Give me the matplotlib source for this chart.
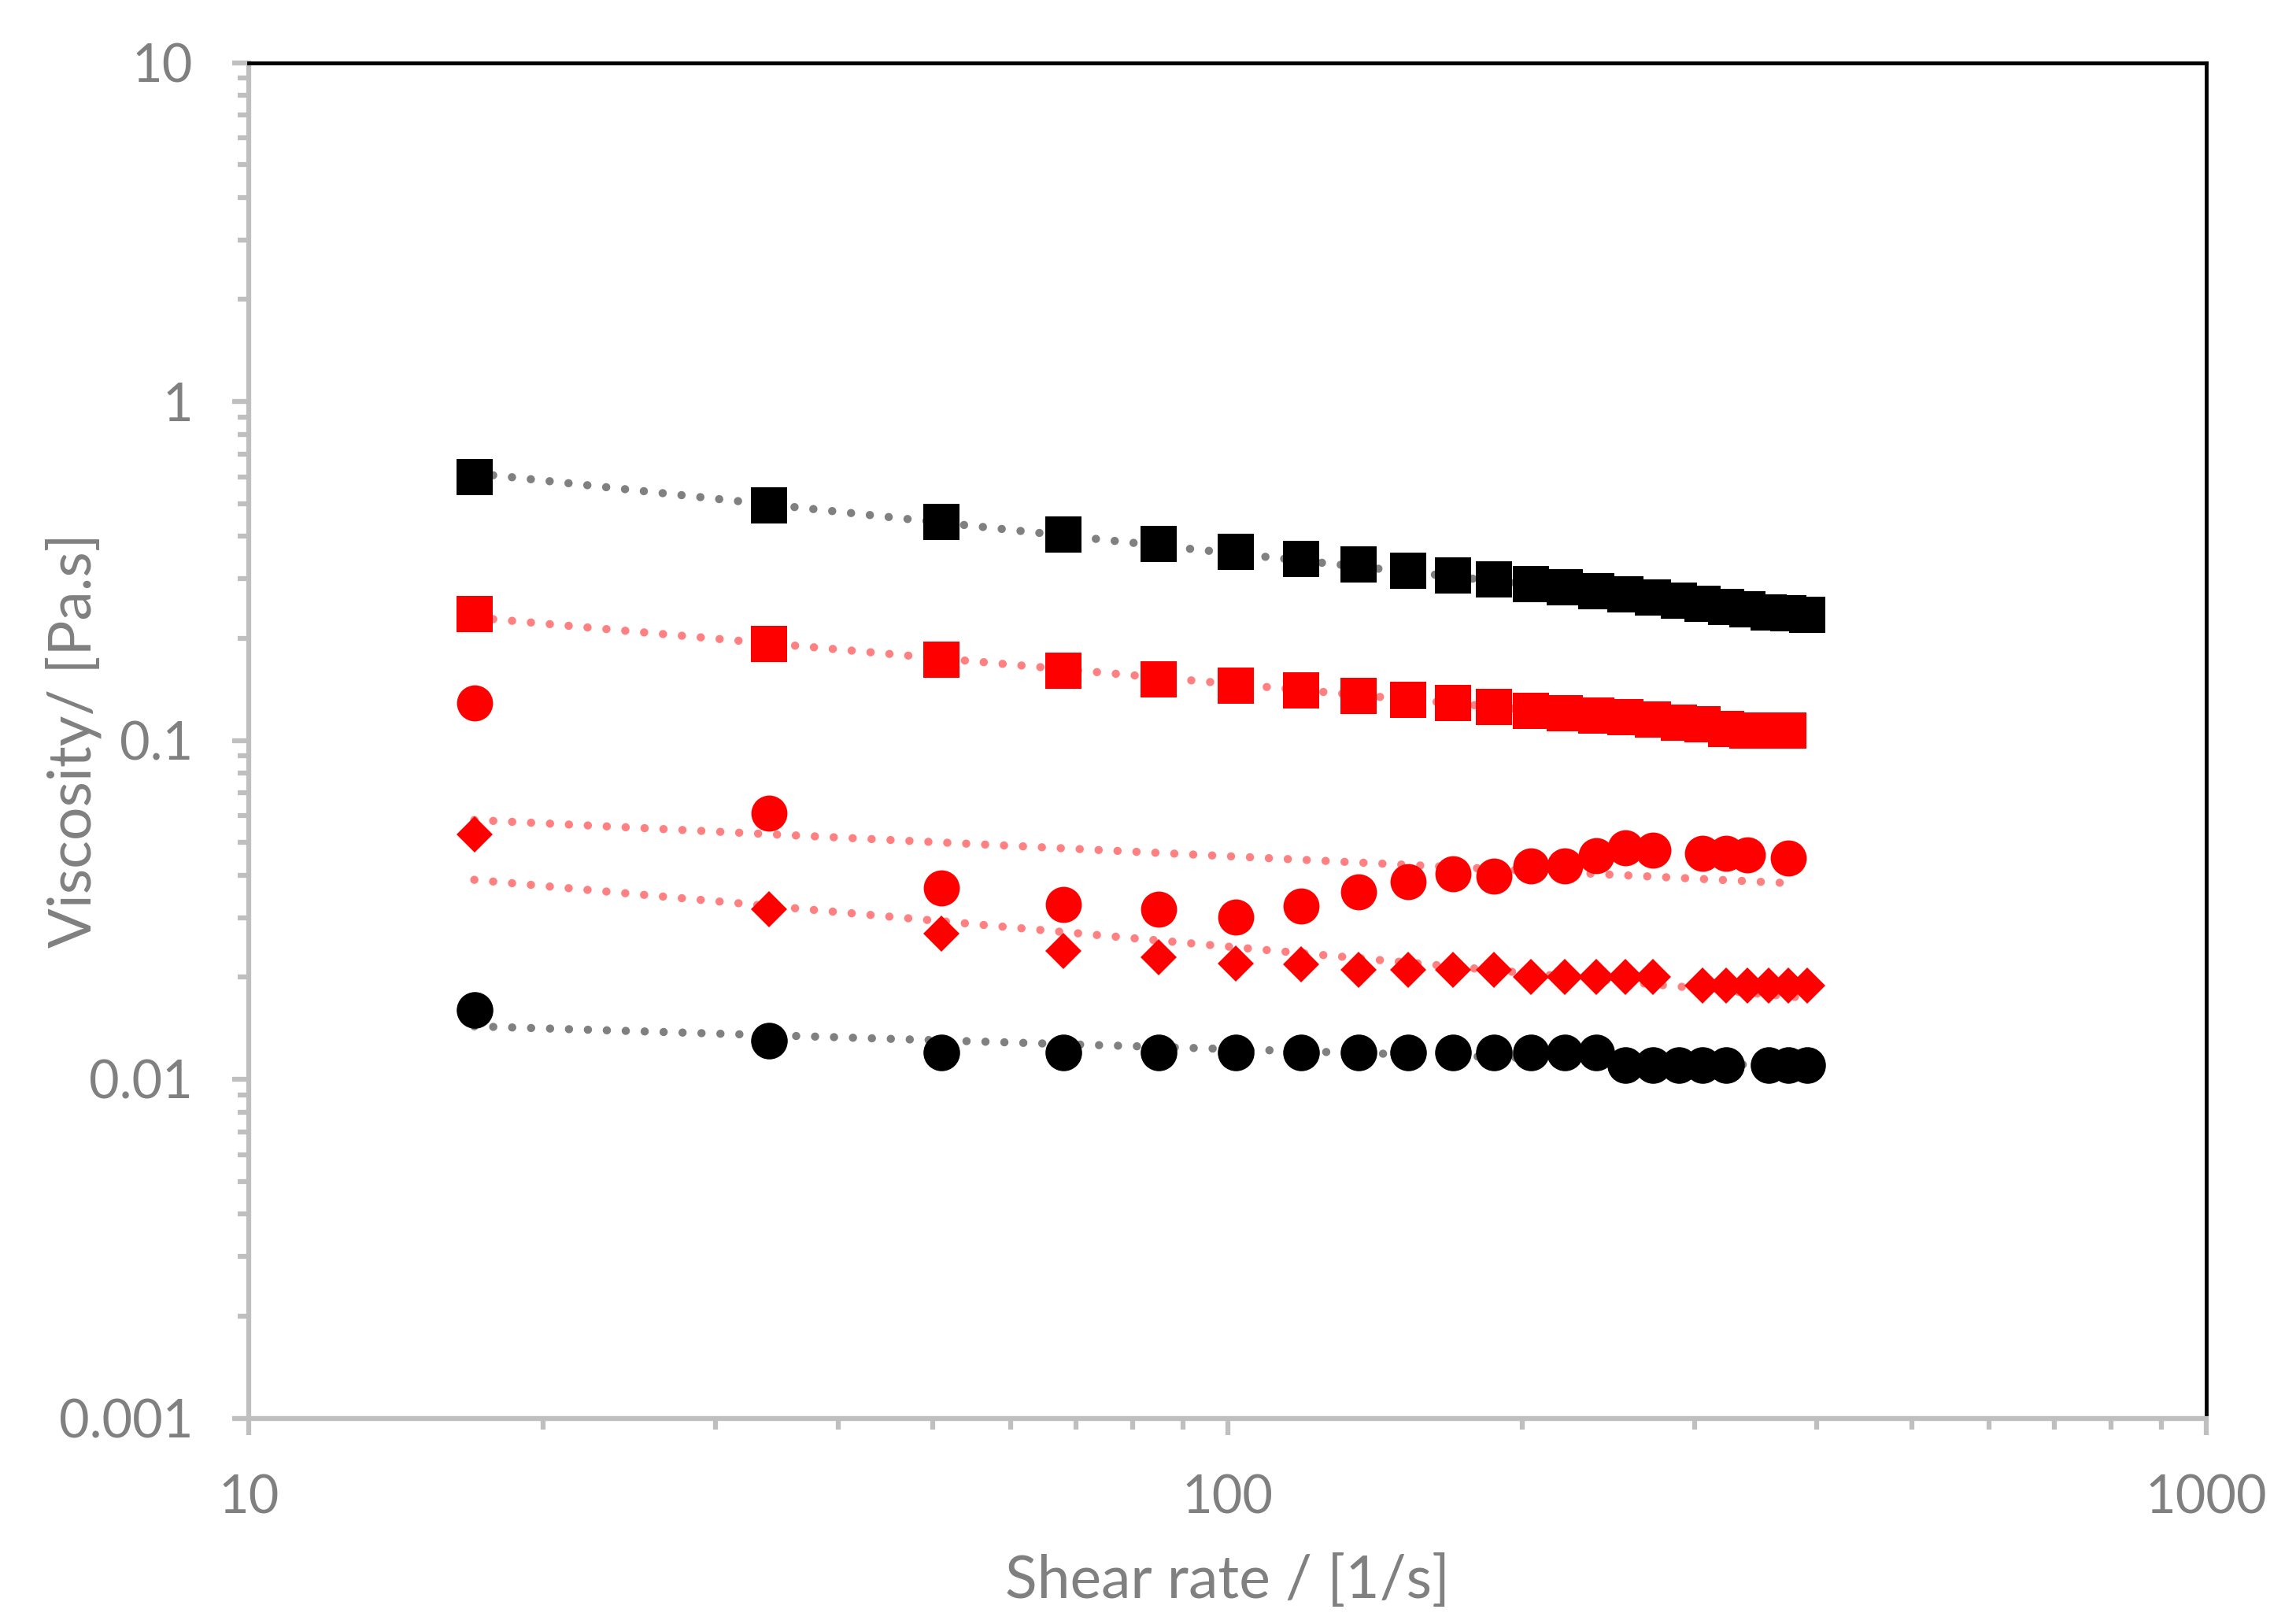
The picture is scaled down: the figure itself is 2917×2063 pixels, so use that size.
import matplotlib
matplotlib.use("Agg")
import matplotlib.pyplot as plt
import matplotlib.ticker as mticker
import numpy as np

plt.rcParams['font.family'] = ['Lato', 'DejaVu Sans']

# ---- data ----
shear_rate = [17, 34, 51, 68, 85, 102, 119, 136, 153, 170, 187, 204, 221, 238,
              255, 272, 289, 306, 323, 340, 357, 374, 391]

black_sq_x = shear_rate
black_sq_y = [0.598, 0.4925, 0.441, 0.406, 0.380, 0.360, 0.343, 0.330, 0.317, 0.3065,
              0.298, 0.289, 0.2825, 0.275, 0.269, 0.264, 0.258, 0.2525, 0.248, 0.243,
              0.239, 0.237, 0.2345]

red_sq_x = shear_rate[:22]
red_sq_y = [0.236, 0.193, 0.173, 0.1606, 0.1515, 0.1447, 0.1403, 0.1355, 0.1318, 0.1286,
            0.1255, 0.1225, 0.1202, 0.1186, 0.1170, 0.1154, 0.1128, 0.1113, 0.1083, 0.107,
            0.107, 0.107]

red_ci_x = [17, 34, 51, 68, 85, 102, 119, 136, 153, 170, 187, 204, 221, 238, 255, 272,
            306, 323, 340, 374]
red_ci_y = [0.1288, 0.0611, 0.0366, 0.0328, 0.0318, 0.0301, 0.0325, 0.0357, 0.0382, 0.0403,
            0.0398, 0.0426, 0.0426, 0.0456, 0.0482, 0.0473, 0.0465, 0.0465, 0.0459, 0.0450]

red_di_x = [17, 34, 51, 68, 85, 102, 119, 136, 153, 170, 187, 204, 221, 238, 255, 272,
            306, 323, 340, 357, 374, 391]
red_di_y = [0.0529, 0.0318, 0.0269, 0.0239, 0.0229, 0.0219, 0.0218, 0.021, 0.021, 0.021,
            0.021, 0.020, 0.020, 0.020, 0.020, 0.020, 0.0189, 0.0189, 0.0189, 0.0189,
            0.0189, 0.0189]

black_ci_x = [17, 34, 51, 68, 85, 102, 119, 136, 153, 170, 187, 204, 221, 238, 255, 272,
              289, 306, 323, 357, 374, 391]
black_ci_y = [0.0160, 0.0130, 0.0120, 0.0120, 0.0120, 0.0120, 0.0120, 0.0120, 0.0120, 0.0120,
              0.0120, 0.0120, 0.0120, 0.0120, 0.0110, 0.0110, 0.0110, 0.0110, 0.0110, 0.0110,
              0.0110, 0.0110]

x_ticks = [10, 100, 1000]
x_tick_labels = ['10', '100', '1000']
y_ticks = [0.001, 0.01, 0.1, 1, 10]
y_tick_labels = ['0.001', '0.01', '0.1', '1', '10']

x_title = 'Shear rate / [1/s]'
y_title = 'Viscosity/ [Pa.s]'

# ---- figure ----
fig = plt.figure(figsize=(29.17, 20.63), dpi=100)
ax = fig.add_axes([316/2917, 1 - 1801.5/2063, (2803-316)/2917, (1801.5-79.5)/2063])
ax.set_xscale('log')
ax.set_yscale('log')
ax.set_xlim(10, 1000)
ax.set_ylim(0.001, 10)

BLACK = '#000000'
RED = '#FF0000'
GRAY_TR = '#808080'
RED_TR = '#FF8080'

series = [
    (black_sq_x, black_sq_y, 's', 33, BLACK, GRAY_TR),
    (red_sq_x, red_sq_y, 's', 33, RED, RED_TR),
    (red_ci_x, red_ci_y, 'o', 33, RED, RED_TR),
    (red_di_x, red_di_y, 'D', 23.4, RED, RED_TR),
    (black_ci_x, black_ci_y, 'o', 33.5, BLACK, GRAY_TR),
]

for xs, ys, mk, ms, col, tcol in series:
    xs = np.asarray(xs, float)
    ys = np.asarray(ys, float)
    # power-law trendline (least squares in log-log space)
    b, a = np.polyfit(np.log10(xs), np.log10(ys), 1)
    xt = np.logspace(np.log10(xs.min()), np.log10(xs.max()), 200)
    yt = 10 ** (a + b * np.log10(xt))
    ax.plot(xt, yt, color=tcol, lw=7.5, linestyle=(0, (0.01, 2.3)),
            dash_capstyle='round', zorder=2)
    ax.plot(xs, ys, linestyle='none', marker=mk, ms=ms, mfc=col, mec=col, mew=0,
            zorder=3)

# ---- axes styling ----
SPINE_GRAY = '#BFBFBF'
LABEL_GRAY = '#808080'
for side in ('left', 'bottom'):
    ax.spines[side].set_color(SPINE_GRAY)
    ax.spines[side].set_linewidth(4.5)
for side in ('top', 'right'):
    ax.spines[side].set_color(BLACK)
    ax.spines[side].set_linewidth(3.5)

ax.xaxis.set_major_locator(mticker.FixedLocator(x_ticks))
ax.xaxis.set_major_formatter(mticker.FixedFormatter(x_tick_labels))
ax.yaxis.set_major_locator(mticker.FixedLocator(y_ticks))
ax.yaxis.set_major_formatter(mticker.FixedFormatter(y_tick_labels))
ax.xaxis.set_minor_locator(mticker.LogLocator(base=10, subs=np.arange(2, 10)))
ax.yaxis.set_minor_locator(mticker.LogLocator(base=10, subs=np.arange(2, 10)))
ax.xaxis.set_minor_formatter(mticker.NullFormatter())
ax.yaxis.set_minor_formatter(mticker.NullFormatter())

ax.tick_params(which='major', direction='out', length=15, width=4.5, color=SPINE_GRAY,
               labelcolor=LABEL_GRAY, labelsize=48)
ax.tick_params(which='minor', direction='out', length=10, width=4.5, color=SPINE_GRAY)
ax.tick_params(axis='x', which='major', pad=36)
ax.tick_params(axis='y', which='major', pad=36)

ax.set_xlabel(x_title, fontsize=54, color=LABEL_GRAY, va='center')
ax.set_ylabel(y_title, fontsize=54, color=LABEL_GRAY, va='center')
ax.xaxis.set_label_coords(0.5, -0.120)
ax.yaxis.set_label_coords(-0.0897, 0.5)

fig.savefig('out.png', dpi=100)
